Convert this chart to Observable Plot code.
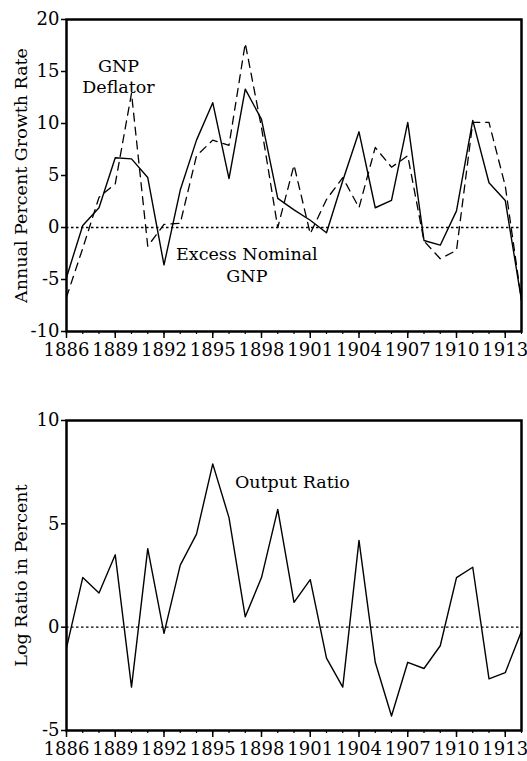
<!DOCTYPE html>
<html>
<head>
<meta charset="utf-8">
<script src="https://cdn.jsdelivr.net/npm/d3@7"></script>
<script src="https://cdn.jsdelivr.net/npm/@observablehq/plot@0.6"></script>
<style>
  html, body { margin: 0; padding: 0; background: #fff; }
  #chart svg { display: block; }
</style>
</head>
<body>
<div id="chart"></div>
<script>
const years = [1886, 1887, 1888, 1889, 1890, 1891, 1892, 1893, 1894, 1895,
               1896, 1897, 1898, 1899, 1900, 1901, 1902, 1903, 1904, 1905,
               1906, 1907, 1908, 1909, 1910, 1911, 1912, 1913, 1914];
const excessNominalGNP = [-4.8, 0.2, 1.9, 6.7, 6.6, 4.8, -3.6, 3.6, 8.4, 12.0,
                          4.7, 13.3, 10.4, 2.8, 1.7, 0.7, -0.5, 4.5, 9.2, 1.9,
                          2.6, 10.1, -1.25, -1.7, 1.6, 10.3, 4.3, 2.6, -7.0];
const gnpDeflator = [-6.7, -2.0, 2.9, 4.2, 12.9, -1.8, 0.3, 0.4, 6.9, 8.4,
                     7.9, 17.7, 9.6, 0.0, 6.0, -0.6, 2.7, 4.8, 1.9, 7.7,
                     5.8, 6.9, -1.3, -3.0, -2.2, 10.1, 10.1, 4.0, -7.0];
const outputRatio = [-1.0, 2.4, 1.65, 3.5, -2.9, 3.8, -0.3, 3.0, 4.5, 7.9,
                     5.3, 0.5, 2.4, 5.7, 1.2, 2.3, -1.5, -2.9, 4.2, -1.7,
                     -4.3, -1.7, -2.0, -0.9, 2.4, 2.9, -2.5, -2.2, -0.2];
const xMajorTicks = [1886, 1889, 1892, 1895, 1898, 1901, 1904, 1907, 1910, 1913];
const yTicksTop = [-10, -5, 0, 5, 10, 15, 20];
const yTicksBottom = [-5, 0, 5, 10];

const growthRows = years.map((year, i) => ({year, nominal: excessNominalGNP[i], deflator: gnpDeflator[i]}));
const ratioRows = years.map((year, i) => ({year, ratio: outputRatio[i]}));

const font = "DejaVu Serif";
const baseStyle = {fontFamily: font, fontSize: "18px", color: "black", background: "white"};

function axesMarks(yTicks, label) {
  return [
    Plot.axisY({ticks: yTicks, tickSize: 5, tickPadding: 2, strokeWidth: 1.5, label: null, tickFormat: d => String(d)}),
    Plot.axisX({ticks: years, tickSize: 3, strokeWidth: 1.2, label: null, tickFormat: () => ""}),
    Plot.axisX({ticks: xMajorTicks, tickSize: 7, tickPadding: 5, strokeWidth: 1.5, label: null, tickFormat: d => String(d)}),
    Plot.text([label], {frameAnchor: "left", rotate: -90, dx: -45, textAnchor: "middle", lineAnchor: "middle", fontSize: 17.5, fill: "black"}),
    Plot.frame({stroke: "black", strokeWidth: 2.5})
  ];
}

const plotTop = Plot.plot({
  width: 527, height: 365,
  marginLeft: 66, marginRight: 6, marginTop: 19, marginBottom: 34,
  style: baseStyle,
  x: {domain: [1886, 1914], axis: null},
  y: {domain: [-10, 20], axis: null},
  marks: [
    Plot.ruleY([0], {stroke: "black", strokeWidth: 1.3, strokeDasharray: "2.5,2.5"}),
    Plot.line(growthRows, {x: "year", y: "deflator", stroke: "black", strokeWidth: 1.3, strokeDasharray: "8,6"}),
    Plot.line(growthRows, {x: "year", y: "nominal", stroke: "black", strokeWidth: 1.4}),
    Plot.text(["GNP\nDeflator"], {x: 1889.2, y: 14.6, textAnchor: "middle", lineAnchor: "middle", lineHeight: 1.2, fontSize: 17.5, fill: "black"}),
    Plot.text(["Excess Nominal\nGNP"], {x: 1897.1, y: -3.5, textAnchor: "middle", lineAnchor: "middle", lineHeight: 1.25, fontSize: 17.5, fill: "black"}),
    ...axesMarks(yTicksTop, "Annual Percent Growth Rate")
  ]
});

const plotBottom = Plot.plot({
  width: 527, height: 396,
  marginLeft: 66, marginRight: 6, marginTop: 55, marginBottom: 31,
  style: baseStyle,
  x: {domain: [1886, 1914], axis: null},
  y: {domain: [-5, 10], axis: null},
  marks: [
    Plot.ruleY([0], {stroke: "black", strokeWidth: 1.3, strokeDasharray: "2.5,2.5"}),
    Plot.line(ratioRows, {x: "year", y: "ratio", stroke: "black", strokeWidth: 1.4}),
    Plot.text(["Output Ratio"], {x: 1899.9, y: 7.0, textAnchor: "middle", lineAnchor: "middle", fontSize: 17.5, fill: "black"}),
    ...axesMarks(yTicksBottom, "Log Ratio in Percent")
  ]
});

const root = document.getElementById("chart");
root.appendChild(plotTop);
root.appendChild(plotBottom);
</script>
</body>
</html>
